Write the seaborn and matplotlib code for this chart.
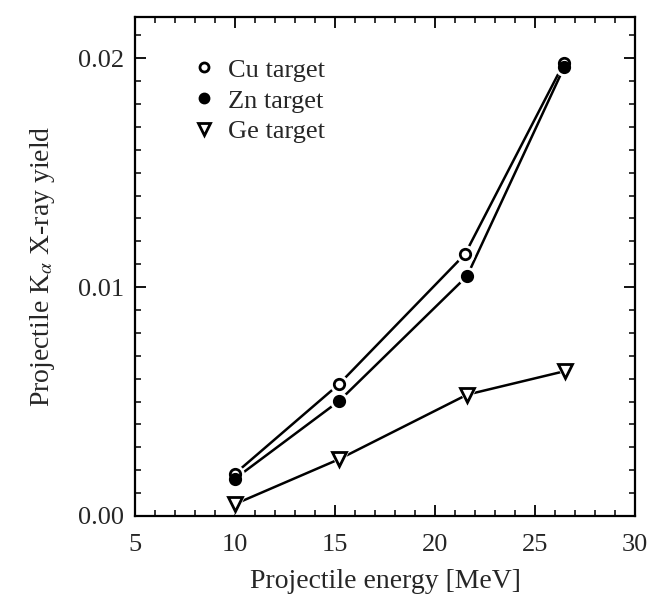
import numpy as np
import pandas as pd
import matplotlib
matplotlib.use("Agg")
import matplotlib.pyplot as plt
import seaborn as sns
from matplotlib.lines import Line2D
from matplotlib.ticker import MultipleLocator

sns.set_theme(style="ticks")
plt.rcParams['font.family'] = ['Liberation Serif', 'DejaVu Serif']
plt.rcParams['mathtext.fontset'] = 'stix'

# Data
energy_cu = [10.0, 15.2, 21.5, 26.45]
yield_cu = [0.00185, 0.00576, 0.01144, 0.0198]
energy_zn = [10.0, 15.2, 21.6, 26.45]
yield_zn = [0.00163, 0.00502, 0.01048, 0.0196]
energy_ge = [10.0, 15.2, 21.6, 26.5]
yield_ge = [0.00052, 0.00248, 0.0053, 0.00633]
labels = ["Cu target", "Zn target", "Ge target"]

df = pd.concat([
    pd.DataFrame({"E": energy_cu, "Y": yield_cu, "t": labels[0]}),
    pd.DataFrame({"E": energy_zn, "Y": yield_zn, "t": labels[1]}),
    pd.DataFrame({"E": energy_ge, "Y": yield_ge, "t": labels[2]}),
])

fig = plt.figure(figsize=(6.52, 5.99), dpi=100)
ax = fig.add_axes([0.207, 0.1386, 0.767, 0.833])

styles = {
    labels[0]: dict(marker='o', mfc='white', ms=7.5),
    labels[1]: dict(marker='o', mfc='black', ms=7.5),
    labels[2]: dict(marker='v', mfc='white', ms=9.5),
}

for lab in labels:
    sub = df[df.t == lab]
    sns.lineplot(data=sub, x="E", y="Y", ax=ax, color='black', lw=1.8,
                 sort=False, zorder=2, legend=False)
    st = styles[lab]
    # white halo to create gaps around markers
    ax.plot(sub.E, sub.Y, ls='none', marker=st['marker'], ms=st['ms'] + 5,
            mfc='white', mec='white', zorder=3)
    ax.plot(sub.E, sub.Y, ls='none', marker=st['marker'], ms=st['ms'],
            mfc=st['mfc'], mec='black', mew=2.0, zorder=4)

ax.set_xlim(5, 30)
ax.set_ylim(0, 0.0218)
ax.xaxis.set_major_locator(MultipleLocator(5))
ax.xaxis.set_minor_locator(MultipleLocator(1))
ax.yaxis.set_major_locator(MultipleLocator(0.01))
ax.yaxis.set_minor_locator(MultipleLocator(0.001))
ax.yaxis.set_major_formatter(matplotlib.ticker.FormatStrFormatter('%.2f'))
ax.tick_params(which='both', direction='in', top=True, right=True, color='black')
ax.tick_params(which='major', length=8, width=1.3, labelsize=19)
ax.tick_params(axis='x', which='major', pad=13)
ax.tick_params(axis='y', which='major', pad=8)
ax.tick_params(which='minor', length=4, width=1.1)
for s in ax.spines.values():
    s.set_linewidth(1.6)
    s.set_color('black')

ax.set_xlabel("Projectile energy [MeV]", fontsize=20, labelpad=9)
ax.set_ylabel(r"Projectile K$_\alpha$ X-ray yield", fontsize=20, labelpad=15)

handles = [Line2D([], [], ls='none', marker=styles[l]['marker'], ms=styles[l]['ms'] - 1,
                  mfc=styles[l]['mfc'], mec='black', mew=2.0) for l in labels]
ax.legend(handles, labels, loc='upper left', bbox_to_anchor=(0.065, 0.965),
          frameon=False, fontsize=19, handletextpad=0.4, labelspacing=0.28,
          handlelength=1.0)

fig.savefig("out.png", dpi=100)
